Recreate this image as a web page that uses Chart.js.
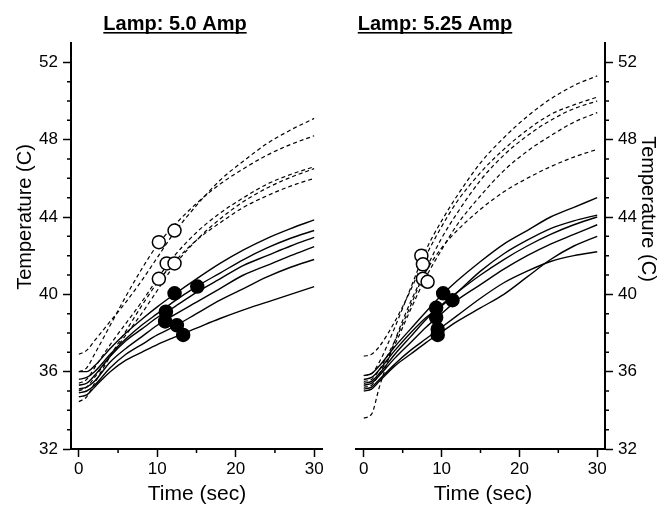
<!DOCTYPE html>
<html>
<head>
<meta charset="utf-8">
<script src="https://cdn.jsdelivr.net/npm/chart.js@4.4.0/dist/chart.umd.min.js"></script>
<style>
  body { margin: 0; background: #fff; }
  #wrap { position: relative; width: 660px; height: 509px; }
  #wrap canvas { position: absolute; top: 0; }
</style>
</head>
<body>
<div id="wrap">
  <canvas id="chartLeft" width="330" height="509" style="left:0"></canvas>
  <canvas id="chartRight" width="330" height="509" style="left:330px"></canvas>
</div>
<script>
// ---------- data ----------
const times = [0, 1, 2, 4, 6, 8, 10, 12, 15, 18, 21, 24, 27, 30];

// Lamp 5.0 Amp
const leftSolid = [
  [36.0, 36.0, 36.3, 37.2, 38.0, 38.7, 39.35, 39.95, 40.8, 41.6, 42.3, 42.9, 43.4, 43.85],
  [35.6, 35.7, 36.0, 36.9, 37.7, 38.4, 39.0, 39.6, 40.4, 41.1, 41.8, 42.4, 42.9, 43.3],
  [35.3, 35.4, 35.8, 36.8, 37.6, 38.2, 38.8, 39.3, 40.1, 40.8, 41.5, 42.0, 42.5, 42.95],
  [35.1, 35.2, 35.5, 36.5, 37.2, 37.8, 38.4, 38.9, 39.6, 40.3, 41.0, 41.5, 42.0, 42.47],
  [34.9, 35.0, 35.3, 36.2, 36.9, 37.4, 37.9, 38.3, 39.0, 39.7, 40.3, 40.9, 41.4, 41.8],
  [34.7, 34.8, 35.2, 36.0, 36.6, 37.0, 37.4, 37.75, 38.25, 38.75, 39.2, 39.6, 40.0, 40.4]
];
const leftDashed = [
  [36.9, 37.1, 37.6, 38.6, 39.6, 40.7, 41.9, 43.1, 44.6, 45.9, 46.9, 47.8, 48.5, 49.1],
  [36.0, 36.2, 36.9, 38.4, 39.9, 41.3, 42.55, 43.5, 44.7, 45.7, 46.5, 47.2, 47.75, 48.2],
  [35.4, 35.6, 36.2, 37.4, 38.5, 39.6, 40.8, 41.9, 43.2, 44.2, 45.0, 45.7, 46.2, 46.6],
  [35.0, 35.2, 35.7, 36.8, 37.9, 39.0, 40.2, 41.4, 42.8, 43.9, 44.8, 45.5, 46.05, 46.5],
  [34.45, 34.7, 35.4, 36.8, 38.1, 39.4, 40.6, 41.6, 42.8, 43.7, 44.5, 45.1, 45.6, 46.0]
];
const leftOpenX = [10.2, 12.2, 11.2, 12.2, 10.2];
const leftOpenY = [42.7, 43.3, 41.6, 41.6, 40.8];
const leftFilledX = [12.2, 15.1, 11.1, 11.0, 12.5, 13.3];
const leftFilledY = [40.05, 40.4, 39.1, 38.6, 38.4, 37.9];

// Lamp 5.25 Amp
const rightSolid = [
  [35.8, 35.9, 36.3, 37.3, 38.2, 39.1, 39.95, 40.7, 41.7, 42.6, 43.3, 44.0, 44.5, 45.0],
  [35.6, 35.7, 36.1, 37.1, 38.0, 38.8, 39.4, 40.1, 41.2, 42.1, 42.8, 43.4, 43.8, 44.1],
  [35.4, 35.5, 35.9, 36.9, 37.8, 38.7, 39.45, 40.1, 41.0, 41.8, 42.5, 43.1, 43.6, 44.0],
  [35.3, 35.4, 35.8, 36.7, 37.5, 38.3, 39.0, 39.7, 40.5, 41.3, 42.0, 42.6, 43.1, 43.6],
  [35.0, 35.1, 35.5, 36.3, 36.9, 37.5, 38.05, 38.6, 39.3, 40.0, 40.9, 41.8, 42.5, 43.0],
  [35.1, 35.2, 35.6, 36.4, 37.1, 37.7, 38.3, 38.9, 39.8, 40.6, 41.2, 41.7, 42.0, 42.2]
];
const rightDashed = [
  [35.8, 35.9, 36.5, 38.3, 40.3, 42.3, 43.8, 45.1, 46.8, 48.1, 49.2, 50.1, 50.8, 51.3],
  [36.8, 36.9, 37.3, 38.6, 40.2, 42.0, 43.5, 44.8, 46.3, 47.5, 48.5, 49.3, 49.8, 50.2],
  [35.5, 35.6, 36.1, 37.6, 39.4, 41.3, 42.9, 44.2, 45.9, 47.2, 48.2, 49.0, 49.6, 50.0],
  [35.2, 35.3, 35.9, 37.4, 39.2, 40.9, 42.3, 43.6, 45.1, 46.4, 47.4, 48.2, 48.9, 49.4],
  [33.6, 33.8, 35.2, 37.6, 39.6, 41.2, 42.4, 43.3, 44.4, 45.3, 46.0, 46.6, 47.1, 47.5]
];
const rightOpenX = [7.4, 7.6, 7.6, 8.2];
const rightOpenY = [42.0, 41.55, 40.8, 40.65];
const rightFilledX = [10.2, 11.4, 9.3, 9.3, 9.5, 9.5];
const rightFilledY = [40.05, 39.7, 39.3, 38.8, 38.2, 37.9];

const minorXTicks = [5, 15, 25];
const minorYTicks = [33, 34, 35, 37, 38, 39, 41, 42, 43, 45, 46, 47, 49, 50, 51];

// ---------- helpers ----------
const FONT = '"Liberation Sans", Arial, Helvetica, sans-serif';

function curveDataset(values, dashed) {
  return {
    data: times.map((t, i) => ({ x: t, y: values[i] })),
    borderColor: '#000',
    borderWidth: dashed ? 1.2 : 1.4,
    borderDash: dashed ? [4, 3] : [],
    pointRadius: 0,
    cubicInterpolationMode: 'monotone',
    fill: false,
    order: 2
  };
}

function circleDataset(xs, ys, filled) {
  return {
    data: xs.map((x, i) => ({ x: x, y: ys[i] })),
    showLine: false,
    pointRadius: 6.5,
    pointBorderWidth: 1.5,
    pointBorderColor: '#000',
    pointBackgroundColor: filled ? '#000' : '#fff',
    order: 1
  };
}

// minor ticks + titles (underlined panel title, axis titles)
const panelDecor = {
  id: 'panelDecor',
  afterDraw(chart, args, o) {
    const ctx = chart.ctx;
    const xs = chart.scales.x, ys = chart.scales.y;
    ctx.save();
    ctx.strokeStyle = '#000';
    ctx.lineWidth = 1.5;
    ctx.beginPath();
    minorXTicks.forEach(v => {
      const px = xs.getPixelForValue(v);
      ctx.moveTo(px, xs.top);
      ctx.lineTo(px, xs.top + 4);
    });
    minorYTicks.forEach(v => {
      const py = ys.getPixelForValue(v);
      if (o.side === 'left') {
        ctx.moveTo(ys.right, py);
        ctx.lineTo(ys.right - 4, py);
      } else {
        ctx.moveTo(ys.left, py);
        ctx.lineTo(ys.left + 4, py);
      }
    });
    ctx.stroke();

    ctx.fillStyle = '#000';
    // panel title, underlined
    ctx.font = 'bold 20px ' + FONT;
    ctx.textAlign = 'center';
    ctx.textBaseline = 'alphabetic';
    ctx.fillText(o.title, o.titleX, 30);
    const w = ctx.measureText(o.title).width;
    ctx.fillRect(o.titleX - w / 2, 32, w, 1.6);

    // x axis title
    ctx.font = '21px ' + FONT;
    ctx.fillText('Time (sec)', o.xTitleX, 500);

    // y axis title
    ctx.font = '20px ' + FONT;
    ctx.translate(o.yTitleX, o.yTitleY);
    ctx.rotate(o.side === 'left' ? -Math.PI / 2 : Math.PI / 2);
    ctx.fillText('Temperature (C)', 0, 0);
    ctx.restore();
  }
};

function makePanel(canvasId, solid, dashed, openX, openY, filledX, filledY, side, decor) {
  const datasets = [
    circleDataset(openX, openY, false),
    circleDataset(filledX, filledY, true)
  ];
  dashed.forEach(c => datasets.push(curveDataset(c, true)));
  solid.forEach(c => datasets.push(curveDataset(c, false)));

  const axisGrid = {
    display: true,
    drawOnChartArea: false,
    drawTicks: true,
    tickLength: 8,
    tickWidth: 1.5,
    tickColor: '#000',
    color: '#000'
  };

  return new Chart(document.getElementById(canvasId), {
    type: 'line',
    data: { datasets: datasets },
    plugins: [panelDecor],
    options: {
      responsive: false,
      animation: false,
      layout: {
        padding: side === 'left'
          ? { left: 0, right: 8, top: 43, bottom: 0 }
          : { left: 26, right: 0, top: 43, bottom: 0 }
      },
      plugins: {
        legend: { display: false },
        tooltip: { enabled: false },
        panelDecor: decor
      },
      scales: {
        x: {
          type: 'linear',
          min: -1,
          max: 31,
          grid: axisGrid,
          border: { display: true, color: '#000', width: 2 },
          ticks: {
            stepSize: 10,
            includeBounds: false,
            color: '#000',
            padding: 2,
            font: { family: FONT, size: 17 },
            maxRotation: 0
          },
          afterFit: s => { s.height = 60; }
        },
        y: {
          type: 'linear',
          position: side,
          min: 32,
          max: 53,
          grid: axisGrid,
          border: { display: true, color: '#000', width: 2 },
          ticks: {
            stepSize: 4,
            includeBounds: false,
            color: '#000',
            padding: 5,
            font: { family: FONT, size: 17 }
          },
          afterFit: s => { s.width = side === 'left' ? 71 : 55; }
        }
      }
    }
  });
}

makePanel('chartLeft', leftSolid, leftDashed, leftOpenX, leftOpenY, leftFilledX, leftFilledY, 'left',
  { side: 'left', title: 'Lamp: 5.0 Amp', titleX: 175, xTitleX: 197, yTitleX: 31, yTitleY: 217 });

makePanel('chartRight', rightSolid, rightDashed, rightOpenX, rightOpenY, rightFilledX, rightFilledY, 'right',
  { side: 'right', title: 'Lamp: 5.25 Amp', titleX: 105, xTitleX: 153, yTitleX: 312, yTitleY: 209 });
</script>
</body>
</html>
